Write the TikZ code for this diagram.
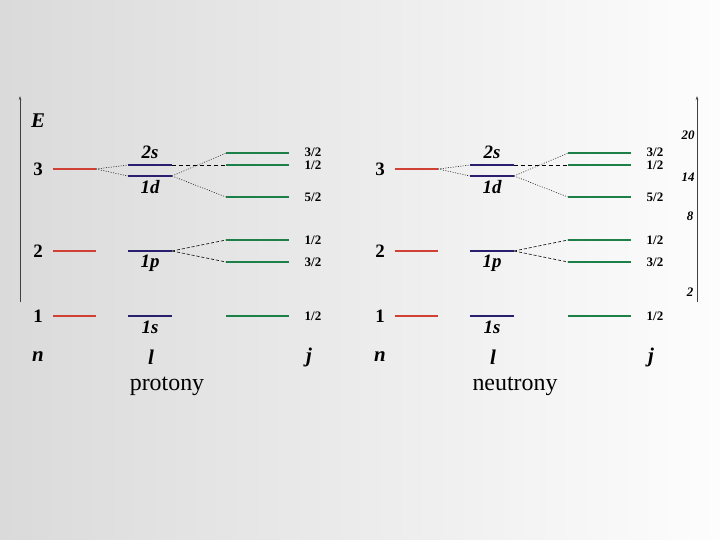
\documentclass[tikz,border=0pt]{standalone}
\usepackage{fontspec}
\setmainfont{Liberation Serif}
\usetikzlibrary{arrows.meta}
\definecolor{lvred}{RGB}{208,64,52}
\definecolor{lvblue}{RGB}{40,32,110}
\definecolor{lvgreen}{RGB}{28,128,72}
\definecolor{bgleft}{RGB}{218,218,218}
\definecolor{bgright}{RGB}{253,253,253}
\tikzset{
  redlvl/.style={lvred, line width=2.2pt},
  bluelvl/.style={lvblue, line width=2.6pt},
  bluethin/.style={lvblue, line width=1.4pt},
  greenlvl/.style={lvgreen, line width=2.6pt},
  greenthin/.style={lvgreen, line width=1.5pt},
  conn/.style={black, line width=0.5pt, dash pattern=on 1pt off 1.5pt},
  connd/.style={black, line width=0.6pt, dash pattern=on 4pt off 3pt},
  nlab/.style={font=\fontsize{19}{19}\selectfont\bfseries, inner sep=0pt},
  llab/.style={font=\fontsize{19}{19}\selectfont\bfseries\itshape, inner sep=0pt},
  jlab/.style={font=\fontsize{13}{13}\selectfont\bfseries, inner sep=0pt},
  axlab/.style={font=\fontsize{21}{21}\selectfont\bfseries\itshape, inner sep=0pt},
  maglab/.style={font=\fontsize{13}{13}\selectfont\bfseries\itshape, inner sep=0pt},
  ttl/.style={font=\fontsize{24}{24}\selectfont, inner sep=0pt},
  axis/.style={line width=0.7pt, black!75, -{Stealth[length=4pt,width=2.5pt]}}
}
\newcommand\lvpanel[2]{%
\begin{scope}[xshift=#2bp]
  % n labels
  \node[nlab] (#1n3) at (38,169) {3};
  \node[nlab] (#1n2) at (38,251) {2};
  \node[nlab] (#1n1) at (38,316) {1};
  % red levels
  \coordinate (#1r3a) at (53,169); \coordinate (#1r3b) at (96,169);
  \coordinate (#1r2a) at (53,251); \coordinate (#1r2b) at (96,251);
  \coordinate (#1r1a) at (53,316); \coordinate (#1r1b) at (96,316);
  \draw[redlvl] (#1r3a) -- (#1r3b);
  \draw[redlvl, line width=1.6pt] (#1r2a) -- (#1r2b);
  \draw[redlvl] (#1r1a) -- (#1r1b);
  % blue levels
  \coordinate (#1s2a) at (128,165); \coordinate (#1s2b) at (172,165);
  \coordinate (#1d1a) at (128,176); \coordinate (#1d1b) at (172,176);
  \coordinate (#1p1a) at (128,251); \coordinate (#1p1b) at (172,251);
  \coordinate (#1s1a) at (128,316); \coordinate (#1s1b) at (172,316);
  \draw[bluelvl] (#1s2a) -- (#1s2b);
  \draw[bluethin] (#1d1a) -- (#1d1b);
  \draw[bluethin] (#1p1a) -- (#1p1b);
  \draw[bluelvl, line width=2.2pt] (#1s1a) -- (#1s1b);
  \node[llab] (#1L2s) at (150,152) {2s};
  \node[llab] (#1L1d) at (150,187) {1d};
  \node[llab] (#1L1p) at (150,263) {1p};
  \node[llab] (#1L1s) at (150,327) {1s};
  % green levels
  \coordinate (#1g1a) at (226,153); \coordinate (#1g1b) at (289,153);
  \coordinate (#1g2a) at (226,165); \coordinate (#1g2b) at (289,165);
  \coordinate (#1g3a) at (226,197); \coordinate (#1g3b) at (289,197);
  \coordinate (#1g4a) at (226,240); \coordinate (#1g4b) at (289,240);
  \coordinate (#1g5a) at (226,262); \coordinate (#1g5b) at (289,262);
  \coordinate (#1g6a) at (226,316); \coordinate (#1g6b) at (289,316);
  \draw[greenlvl] (#1g1a) -- (#1g1b);
  \draw[greenlvl] (#1g2a) -- (#1g2b);
  \draw[greenlvl] (#1g3a) -- (#1g3b);
  \draw[greenthin] (#1g4a) -- (#1g4b);
  \draw[greenlvl] (#1g5a) -- (#1g5b);
  \draw[greenlvl] (#1g6a) -- (#1g6b);
  \node[jlab] (#1j1) at (313,152.5) {3/2};
  \node[jlab] (#1j2) at (313,165.5) {1/2};
  \node[jlab] (#1j3) at (313,197) {5/2};
  \node[jlab] (#1j4) at (313,240) {1/2};
  \node[jlab] (#1j5) at (313,262) {3/2};
  \node[jlab] (#1j6) at (313,316) {1/2};
  % connectors
  \draw[conn] (#1r3b) -- (#1s2a);
  \draw[conn] (#1r3b) -- (#1d1a);
  \draw[connd] (#1s2b) -- (#1g2a);
  \draw[conn] (#1d1b) -- (#1g1a);
  \draw[conn] (#1d1b) -- (#1g3a);
  \draw[connd, dash pattern=on 3pt off 2pt] (#1p1b) -- (#1g4a);
  \draw[connd, dash pattern=on 3pt off 2pt] (#1p1b) -- (#1g5a);
  % column labels
  \node[axlab] (#1cn) at (38,357) {n};
  \node[axlab] (#1cl) at (151,357) {l};
  \node[axlab] (#1cj) at (309,357) {j};
\end{scope}}
\begin{document}
\begin{tikzpicture}[x=1bp,y=-1bp]
  \shade[left color=bgleft, right color=bgright] (0,0) rectangle (720,540);
  \useasboundingbox (0,0) rectangle (720,540);
  % left energy axis
  \coordinate (axLb) at (20,302);
  \coordinate (axLt) at (20,96);
  \draw[axis] (axLb) -- (axLt);
  \node[axlab] (E) at (38,121) {E};
  \lvpanel{P}{0}
  \lvpanel{N}{342}
  % right axis with magic numbers
  \coordinate (axRb) at (697,302);
  \coordinate (axRt) at (697,96);
  \draw[axis] (axRb) -- (axRt);
  \node[maglab] (m20) at (688,135) {20};
  \node[maglab] (m14) at (688,177) {14};
  \node[maglab] (m8) at (690,216) {8};
  \node[maglab] (m2) at (690,292) {2};
  % titles
  \node[ttl] (tp) at (167,386) {protony};
  \node[ttl] (tn) at (515,386) {neutrony};
\end{tikzpicture}
\end{document}
